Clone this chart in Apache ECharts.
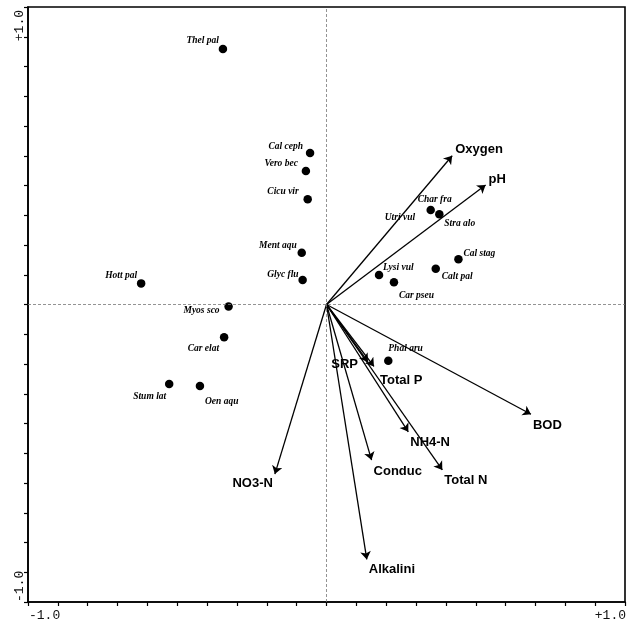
<!DOCTYPE html>
<html>
<head>
<meta charset="utf-8">
<script src="https://cdn.jsdelivr.net/npm/echarts@6/dist/echarts.min.js"></script>
<style>
html,body{margin:0;padding:0;background:#fff;}
#c{width:637px;height:626px;}
</style>
</head>
<body>
<div id="c"></div>
<script>
// Species scores
const speciesNames = ['Thel pal','Cal ceph','Vero bec','Cicu vir','Ment aqu','Glyc flu','Hott pal','Myos sco','Car elat','Stum lat','Oen aqu','Phal aru','Lysi vul','Car pseu','Calt pal','Cal stag','Char fra','Stra alo','Utri vul'];
const speciesX = [-0.347,-0.055,-0.069,-0.063,-0.083,-0.080,-0.621,-0.328,-0.343,-0.527,-0.424,0.207,0.176,0.226,0.366,0.442,0.349,0.378,0.246];
const speciesY = [0.859,0.509,0.449,0.354,0.174,0.082,0.071,-0.007,-0.110,-0.267,-0.274,-0.189,0.099,0.075,0.120,0.152,0.318,0.303,0.291];
const speciesHidden = ['Utri vul'];

// Environmental variable arrows
const varNames = ['Oxygen','pH','BOD','NH4-N','Total N','Conduc','Alkalini','NO3-N','SRP','Total P'];
const varX = [0.421,0.533,0.685,0.274,0.388,0.151,0.135,-0.173,0.139,0.159];
const varY = [0.500,0.402,-0.369,-0.428,-0.556,-0.523,-0.857,-0.570,-0.193,-0.208];

// Axis end labels
const tickValues = [-1, 1];
const tickLabels = ['-1.0', '+1.0'];

// label placement (style, not data)
const speciesLabelPos = {
  'Thel pal':['right',-4,-8], 'Cal ceph':['right',-7,-7], 'Vero bec':['right',-8,-7],
  'Cicu vir':['right',-9,-8], 'Ment aqu':['right',-5,-7], 'Glyc flu':['right',-4,-6],
  'Hott pal':['right',-4,-8], 'Myos sco':['right',-9,4], 'Car elat':['right',-5,11],
  'Stum lat':['right',-3,13], 'Oen aqu':['left',5,16], 'Phal aru':['left',0,-12],
  'Lysi vul':['left',4,-8], 'Car pseu':['left',5,13], 'Calt pal':['left',6,8],
  'Cal stag':['left',5,-6], 'Char fra':['left',-13,-10], 'Stra alo':['left',5,9],
  'Utri vul':['center',0,0]
};
const varLabelPos = {
  'Oxygen':['left',3,-6], 'pH':['left',3,-5], 'BOD':['left',2,11], 'NH4-N':['left',2,11],
  'Total N':['left',2,11], 'Conduc':['left',2,11], 'Alkalini':['left',2,10],
  'NO3-N':['right',-2,9], 'SRP':['right',-10,3], 'Total P':['left',6,14]
};

const chart = echarts.init(document.getElementById('c'));

const speciesData = speciesNames.map((n,i)=>{
  const p = speciesLabelPos[n];
  return {
    name:n, value:[speciesX[i], speciesY[i]],
    symbolSize: speciesHidden.includes(n) ? 0 : 8.5,
    label:{show:true, formatter:'{b}', position:'inside', align:p[0], verticalAlign:'middle', offset:[p[1],p[2]]}
  };
});
const arrowData = varNames.map((n,i)=>({name:n, coords:[[0,0],[varX[i],varY[i]]]}));
const tipData = varNames.map((n,i)=>{
  const p = varLabelPos[n];
  return {name:n, value:[varX[i],varY[i]],
    label:{show:true, formatter:'{b}', position:'inside', align:p[0], verticalAlign:'middle', offset:[p[1],p[2]]}};
});

const axisCommon = {
  type:'value', min:-1, max:1, interval:0.1,
  axisLine:{show:true, onZero:false, lineStyle:{color:'#000', width:1.6}},
  axisTick:{show:true, inside:false, length:4, lineStyle:{color:'#000', width:1.2}},
  axisLabel:{show:false}, splitLine:{show:false}
};

chart.setOption({
  animation:false,
  backgroundColor:'#fff',
  grid:{left:28, right:12, top:7, bottom:24, show:true, borderColor:'#000', borderWidth:1.6},
  xAxis:Object.assign({}, axisCommon),
  yAxis:Object.assign({}, axisCommon),
  series:[
    {
      type:'lines', coordinateSystem:'cartesian2d', z:3,
      symbol:['none','arrow'], symbolSize:[0,8],
      lineStyle:{color:'#000', width:1.3, opacity:1},
      data:arrowData,
      markLine:{
        silent:true, symbol:'none', label:{show:false},
        lineStyle:{color:'#777', type:[3,2], width:0.8},
        data:[{xAxis:0},{yAxis:0}]
      }
    },
    {
      type:'scatter', z:4, symbol:'circle',
      itemStyle:{color:'#000', opacity:1},
      label:{color:'#000', fontFamily:'Liberation Serif', fontStyle:'italic', fontWeight:'bold', fontSize:9.5},
      data:speciesData
    },
    {
      type:'scatter', z:5, symbolSize:0,
      itemStyle:{opacity:1},
      label:{color:'#000', fontFamily:'Liberation Sans', fontWeight:'bold', fontSize:13},
      data:tipData
    }
  ]
});

// Axis end labels placed through the axis scales
const g = [];
tickValues.forEach((v,i)=>{
  const px = chart.convertToPixel({gridIndex:0}, [v, -1]);
  g.push({type:'text', x:px[0] + 1, y:px[1]+14,
    style:{text:tickLabels[i], font:'13px "Liberation Mono"', fill:'#111',
      textAlign: i===0 ? 'left' : 'right', textVerticalAlign:'middle'}});
  const py = chart.convertToPixel({gridIndex:0}, [-1, v]);
  g.push({type:'text', x:py[0]-8, y:py[1] + (i===0 ? 0 : 3), rotation:Math.PI/2,
    style:{text:tickLabels[i], font:'13px "Liberation Mono"', fill:'#111',
      textAlign: i===0 ? 'left' : 'right', textVerticalAlign:'middle'}});
});
chart.setOption({graphic:g});
</script>
</body>
</html>
